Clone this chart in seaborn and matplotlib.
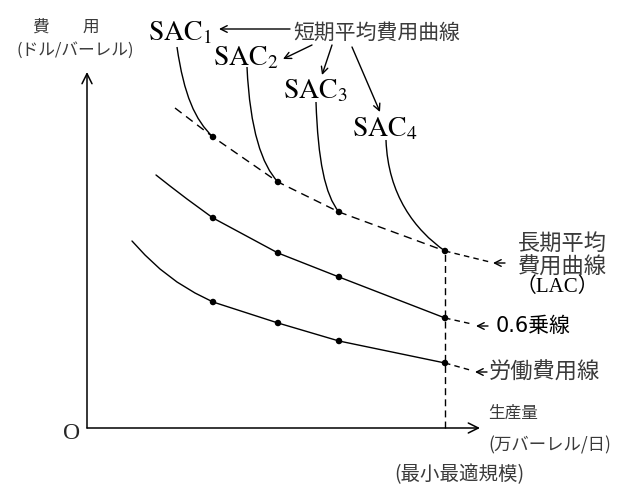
import matplotlib
matplotlib.use("Agg")
import matplotlib.pyplot as plt
import matplotlib.path as mpath
import matplotlib.patches as mpatches
import seaborn as sns
import pandas as pd

# output (x) / cost (y) in drawing units, origin at O
plant_sizes = [126, 191, 252, 358]           # output of the 4 plants
lac_cost = [291, 246, 216, 177]              # long-run average cost at each plant
pow06_cost = [210, 175, 151, 110]            # 0.6-power line
labor_cost = [126, 105, 87, 65]              # labor cost line

# leading parts of the curves before the first plant
lac_head_x, lac_head_y = [88], [320]
pow06_head_x, pow06_head_y = [69, 83, 100], [253, 242, 229]
labor_head_x, labor_head_y = [45, 58, 73, 90, 108], [187, 173, 159, 146, 135]

# short-run average cost curves: start, two control points, end (cubic bezier)
sac_names = ["1", "2", "3", "4"]
sac_start = [(90, 381), (160, 361), (229, 326), (299, 288)]
sac_ctrl1 = [(97, 333), (163, 298), (231, 268), (301, 233)]
sac_ctrl2 = [(108, 308), (175, 263), (238, 233), (328, 198)]
sac_label_pos = [(93, 396), (159, 371), (228, 338), (298, 300)]

x_axis_end = 393
y_axis_end = 356

sns.set_style("white")
plt.rcParams["mathtext.fontset"] = "stix"
jp = ["Noto Sans CJK JP", "DejaVu Sans"]
jp_serif = ["Liberation Serif", "Noto Sans CJK JP"]
num_jp = ["DejaVu Sans", "Noto Sans CJK JP"]
txt_col = "#3a3a3a"

fig = plt.figure(figsize=(6.27, 4.90), dpi=100)
ax = fig.add_axes([0, 0, 1, 1])
ax.set_xlim(-87, 540)
ax.set_ylim(-62, 428)
ax.axis("off")

lw = 1.0
dash = (0, (6, 4))

# curves
lac = pd.DataFrame({"x": lac_head_x + plant_sizes, "y": lac_head_y + lac_cost})
p06 = pd.DataFrame({"x": pow06_head_x + plant_sizes, "y": pow06_head_y + pow06_cost})
lab = pd.DataFrame({"x": labor_head_x + plant_sizes, "y": labor_head_y + labor_cost})
sns.lineplot(data=lac, x="x", y="y", sort=False, estimator=None, color="black",
             lw=lw, linestyle=dash, ax=ax)
sns.lineplot(data=p06, x="x", y="y", sort=False, estimator=None, color="black", lw=lw, ax=ax)
sns.lineplot(data=lab, x="x", y="y", sort=False, estimator=None, color="black", lw=lw, ax=ax)

# SAC curves
for s, c1, c2, xe, ye in zip(sac_start, sac_ctrl1, sac_ctrl2, plant_sizes, lac_cost):
    path = mpath.Path([s, c1, c2, (xe, ye)],
                      [mpath.Path.MOVETO, mpath.Path.CURVE4, mpath.Path.CURVE4, mpath.Path.CURVE4])
    ax.add_patch(mpatches.PathPatch(path, fill=False, lw=lw, color="black"))

# dots
dots = pd.DataFrame({"x": plant_sizes * 3, "y": lac_cost + pow06_cost + labor_cost})
sns.scatterplot(data=dots, x="x", y="y", color="black", s=22, edgecolor="none", ax=ax, zorder=5)

# minimum efficient scale
ax.plot([plant_sizes[-1], plant_sizes[-1]], [0, lac_cost[-1]], color="black", lw=lw, linestyle=(0, (5, 3)))

# axes arrows
arr = dict(arrowstyle="->", lw=1.1, color="black", mutation_scale=18, shrinkA=0, shrinkB=0)
ax.annotate("", xy=(x_axis_end, 0), xytext=(0, 0), arrowprops=arr)
ax.annotate("", xy=(0, y_axis_end), xytext=(0, 0), arrowprops=arr)

# dashed leaders to right-hand labels
leader_end = [(403, 166), (385, 104), (383, 58)]
leader_tip = [(406, 165), (389, 102), (388, 56)]
small_arr = dict(arrowstyle="->", lw=1.0, color="black", mutation_scale=12, shrinkA=0, shrinkB=0)
for end, tip, yv in zip(leader_end, leader_tip, [lac_cost[-1], pow06_cost[-1], labor_cost[-1]]):
    ax.plot([plant_sizes[-1], end[0]], [yv, end[1]], color="black", lw=lw, linestyle=(0, (4, 3)))
    ax.annotate("", xy=tip, xytext=(tip[0] + 12, tip[1]), arrowprops=small_arr)

ax.text(431, 185, "長期平均", fontsize=16, family=jp, color=txt_col, va="center", ha="left")
ax.text(431, 161, "費用曲線", fontsize=16, family=jp, color=txt_col, va="center", ha="left")
ax.text(429, 141, "（LAC）", fontsize=15, family=jp_serif, color="black", va="center", ha="left")
ax.text(409, 102, "0.6乗線", fontsize=15, family=num_jp, color="black", va="center", ha="left")
ax.text(402, 56, "労働費用線", fontsize=16, family=jp, color=txt_col, va="center", ha="left")

# SAC labels and arrows
for name, (lx, ly) in zip(sac_names, sac_label_pos):
    ax.text(lx, ly, r"$\mathrm{SAC}_{%s}$" % name, fontsize=20, ha="center", va="center", color="black")

ax.text(206, 395, "短期平均費用曲線", fontsize=15, family=jp, color=txt_col, va="center", ha="left")
sac_arrow_from = [(203, 399), (225, 383), (245, 383), (265, 381)]
sac_arrow_to = [(132, 399), (196, 369), (235, 353), (293, 316)]
for a, b in zip(sac_arrow_from, sac_arrow_to):
    ax.annotate("", xy=b, xytext=a, arrowprops=dict(arrowstyle="->", lw=1.0, color="black",
                                                    mutation_scale=12, shrinkA=0, shrinkB=0))

# axis labels
ax.text(-21, 401, "費　　用", fontsize=12, family=jp, color=txt_col, ha="center", va="center")
ax.text(-12, 378, "(ドル/バーレル)", fontsize=12, family=jp, color=txt_col, ha="center", va="center")
ax.text(401, 15, "生産量", fontsize=12, family=jp, color=txt_col, ha="left", va="center")
ax.text(401, -17, "(万バーレル/日)", fontsize=12.5, family=jp, color=txt_col, ha="left", va="center")
ax.text(372, -47, "(最小最適規模)", fontsize=14, family=jp, color=txt_col, ha="center", va="center")
ax.text(-15, -5, "O", fontsize=17, family=["Liberation Serif"], ha="center", va="center")

fig.savefig("out.png", dpi=100)
